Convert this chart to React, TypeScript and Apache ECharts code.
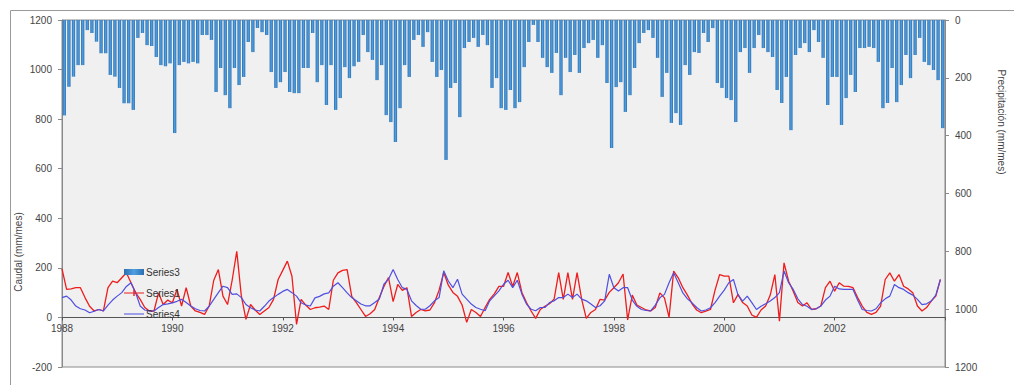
import React, { useEffect, useRef } from "react";
import * as echarts from "echarts";

const START_YEAR = 1988;
const YEARS = [1988, 1989, 1990, 1991, 1992, 1993, 1994, 1995, 1996, 1997, 1998, 1999, 2000, 2001, 2002, 2003];
const MONTHS = [1, 2, 3, 4, 5, 6, 7, 8, 9, 10, 11, 12];

// Series3: Precipitación (mm/mes), monthly
const precip = [
  330,231,196,156,156,35,45,75,115,115,190,196,235,288,288,311,62,45,87,90,128,156,160,150,391,156,145,150,145,150,52,52,
  69,249,166,260,305,166,225,197,76,111,28,42,52,180,235,215,180,249,253,253,166,166,45,215,156,294,156,311,270,163,201,160,
  145,52,111,138,208,156,329,353,422,305,156,197,69,52,93,42,145,197,173,484,235,218,336,97,76,62,93,52,87,235,201,305,
  311,242,305,284,163,76,17,76,131,163,183,114,260,131,180,121,183,97,80,69,131,87,218,443,232,215,318,260,166,80,45,35,
  62,131,266,183,356,322,363,156,190,111,114,45,76,28,218,235,270,277,353,111,97,183,97,52,97,111,128,242,287,197,381,121,
  97,80,111,35,76,131,294,197,197,363,270,190,249,97,97,93,97,145,305,287,166,284,225,121,201,121,62,145,156,173,208,374,
];

// Series1: Caudal observado (mm/mes)
const series1 = [
  196,113,115,120,120,80,45,26,32,26,120,146,140,160,180,140,100,73,40,26,26,99,52,70,59,113,46,120,46,26,20,12,
  46,150,193,86,52,150,267,86,-8,52,30,12,26,40,73,153,190,227,166,-28,73,50,32,39,42,46,32,150,180,190,193,85,
  60,32,4,15,32,80,125,161,64,133,109,120,4,20,32,26,30,60,110,181,130,101,85,50,-20,32,20,4,40,73,95,125,
  125,181,125,181,101,60,26,-4,32,45,55,73,181,73,181,73,181,73,-4,20,32,73,70,101,120,140,175,-10,90,50,40,30,
  26,40,99,79,0,187,160,120,90,55,30,19,25,32,110,173,167,167,59,93,60,46,10,0,30,46,90,173,-15,220,146,106,
  60,46,59,32,35,46,120,146,106,140,126,125,120,80,46,20,12,20,46,153,180,146,173,126,115,100,46,26,40,66,86,153,
];

// Series4: Caudal simulado (mm/mes)
const series4 = [
  80,86,70,46,35,30,19,25,32,26,50,70,86,100,125,140,100,46,30,26,26,40,52,55,59,65,73,60,46,35,28,26,
  45,73,100,126,120,93,95,80,52,39,30,26,45,66,80,93,105,113,100,86,59,50,46,79,85,95,99,126,140,120,99,80,
  67,54,47,47,60,74,134,154,193,153,120,113,67,48,33,33,47,67,80,188,147,120,154,94,74,54,40,33,27,67,87,107,
  134,150,120,150,94,54,33,27,40,40,60,67,80,80,94,80,94,74,67,54,40,47,67,174,120,107,120,120,70,45,32,28,
  26,50,79,93,140,180,140,99,75,59,40,26,30,39,60,86,110,140,153,90,66,86,60,32,45,55,66,80,100,187,140,113,
  75,52,45,32,35,46,70,86,126,115,113,113,113,70,32,28,26,35,59,75,86,133,120,113,100,90,73,52,55,66,90,153,
];

const LEFT_TICKS = [-200, 0, 200, 400, 600, 800, 1000, 1200];
const RIGHT_TICKS = [0, 200, 400, 600, 800, 1000, 1200];
const X_LABEL_YEARS = [1988, 1990, 1992, 1994, 1996, 1998, 2000, 2002];

const FONT = "'Liberation Sans', Arial, sans-serif";

const GRID_TOP = 20;
const GRID_BOTTOM = 18;
const CHART_H = 385;

// legend icons: corner dots fix the bounding box so the line stays thin
const LINE_ICON =
  "path://M0,0 L0.01,0 L0,0.01 Z M0,2.4 L20,2.4 L20,3.6 L0,3.6 Z M19.99,6 L20,6 L20,5.99 Z";
const LINE_MARK_ICON =
  "path://M0,0 L0.01,0 L0,0.01 Z M0,2.4 L20,2.4 L20,3.6 L0,3.6 Z M9.3,0 L10.7,0 L10.7,6 L9.3,6 Z M19.99,6 L20,6 L20,5.99 Z";

export default function App() {
  const ref = useRef<HTMLDivElement>(null);

  useEffect(() => {
    if (!ref.current) return;
    const chart = echarts.init(ref.current, null, { renderer: "svg" });

    const monthStart: number[] = [];
    YEARS.forEach((y) => MONTHS.forEach((m) => monthStart.push(y + (m - 1) / 12)));
    const monthMid = monthStart.map((v) => v + 1 / 24);

    const barData = precip.map((v, i) => [monthMid[i], v]);
    const s1Data = series1.map((v, i) => [monthStart[i], v]);
    const s4Data = series4.map((v, i) => [monthStart[i], v]);
    const xMax = START_YEAR + YEARS.length;

    const yMin = LEFT_TICKS[0];
    const yMax = LEFT_TICKS[LEFT_TICKS.length - 1];
    const gridH = CHART_H - GRID_TOP - GRID_BOTTOM;
    const zeroOffset = -((0 - yMin) / (yMax - yMin)) * gridH;

    chart.setOption({
      animation: false,
      backgroundColor: "#ffffff",
      textStyle: { fontFamily: FONT },
      grid: {
        left: 62,
        right: 69,
        top: GRID_TOP,
        bottom: GRID_BOTTOM,
        show: true,
        backgroundColor: "#f0f0f0",
        borderColor: "#8a8a8a",
        borderWidth: 1,
      },
      legend: {
        orient: "vertical",
        left: 124,
        top: 267,
        itemGap: 11,
        itemWidth: 20,
        itemHeight: 6,
        padding: 0,
        textStyle: { fontSize: 10, color: "#333", fontFamily: FONT, padding: [0, 0, 0, -3] },
        data: [
          { name: "Series3", icon: "rect" },
          { name: "Series1", icon: LINE_MARK_ICON },
          { name: "Series4", icon: LINE_ICON },
        ],
      },
      xAxis: {
        type: "value",
        min: START_YEAR,
        max: xMax,
        interval: 2,
        offset: zeroOffset,
        axisLine: { onZero: false, lineStyle: { color: "#555", width: 1 } },
        axisTick: { show: true, length: 3, lineStyle: { color: "#555" } },
        axisLabel: {
          fontSize: 10,
          color: "#444",
          margin: 6,
          fontFamily: FONT,
          formatter: (v: number) => (X_LABEL_YEARS.includes(Math.round(v)) ? String(Math.round(v)) : ""),
        },
        splitLine: { show: false },
      },
      yAxis: [
        {
          type: "value",
          min: yMin,
          max: yMax,
          interval: 200,
          position: "left",
          axisLine: { show: true, lineStyle: { color: "#8a8a8a" } },
          axisTick: { show: true, length: 4, lineStyle: { color: "#8a8a8a" } },
          axisLabel: { fontSize: 10, color: "#444", margin: 10, fontFamily: FONT, formatter: (v: number) => String(v) },
          splitLine: { show: false },
        },
        {
          type: "value",
          min: RIGHT_TICKS[0],
          max: RIGHT_TICKS[RIGHT_TICKS.length - 1],
          interval: 200,
          inverse: true,
          position: "right",
          axisLine: { show: true, lineStyle: { color: "#8a8a8a" } },
          axisTick: { show: true, length: 4, lineStyle: { color: "#8a8a8a" } },
          axisLabel: { fontSize: 10, color: "#444", margin: 10, fontFamily: FONT, formatter: (v: number) => String(v) },
          splitLine: { show: false },
        },
      ],
      graphic: [
        {
          type: "rect",
          shape: { x: 10.5, y: 10.5, width: 1100, height: 500 },
          style: { fill: "none", stroke: "#9a9a9a", lineWidth: 1 },
          silent: true,
          z: 100,
        },
        {
          type: "text",
          x: 18,
          y: 252,
          rotation: Math.PI / 2,
          style: {
            text: "Caudal (mm/mes)",
            fontSize: 10,
            fill: "#444",
            fontFamily: FONT,
            align: "center",
            verticalAlign: "middle",
          },
        },
        {
          type: "text",
          x: 1001,
          y: 122,
          rotation: -Math.PI / 2,
          style: {
            text: "Precipitación (mm/mes)",
            fontSize: 10,
            fill: "#444",
            fontFamily: FONT,
            align: "center",
            verticalAlign: "middle",
          },
        },
      ],
      series: [
        {
          name: "Series3",
          type: "bar",
          yAxisIndex: 1,
          barWidth: 3.3,
          data: barData,
          itemStyle: {
            color: new echarts.graphic.LinearGradient(0, 0, 1, 0, [
              { offset: 0, color: "#2c6fae" },
              { offset: 0.5, color: "#4f9fe2" },
              { offset: 1, color: "#2c6fae" },
            ]),
          },
        },
        {
          name: "Series1",
          type: "line",
          yAxisIndex: 0,
          data: s1Data,
          symbol: "none",
          lineStyle: { color: "#ee1c1c", width: 1.3 },
          itemStyle: { color: "#ee1c1c" },
        },
        {
          name: "Series4",
          type: "line",
          yAxisIndex: 0,
          data: s4Data,
          symbol: "none",
          lineStyle: { color: "#4f4fe0", width: 1.2 },
          itemStyle: { color: "#4f4fe0" },
        },
      ],
    });

    return () => chart.dispose();
  }, []);

  return (
    <div
      ref={ref}
      style={{ position: "fixed", left: 0, top: 0, width: 1014, height: 385 }}
    />
  );
}
